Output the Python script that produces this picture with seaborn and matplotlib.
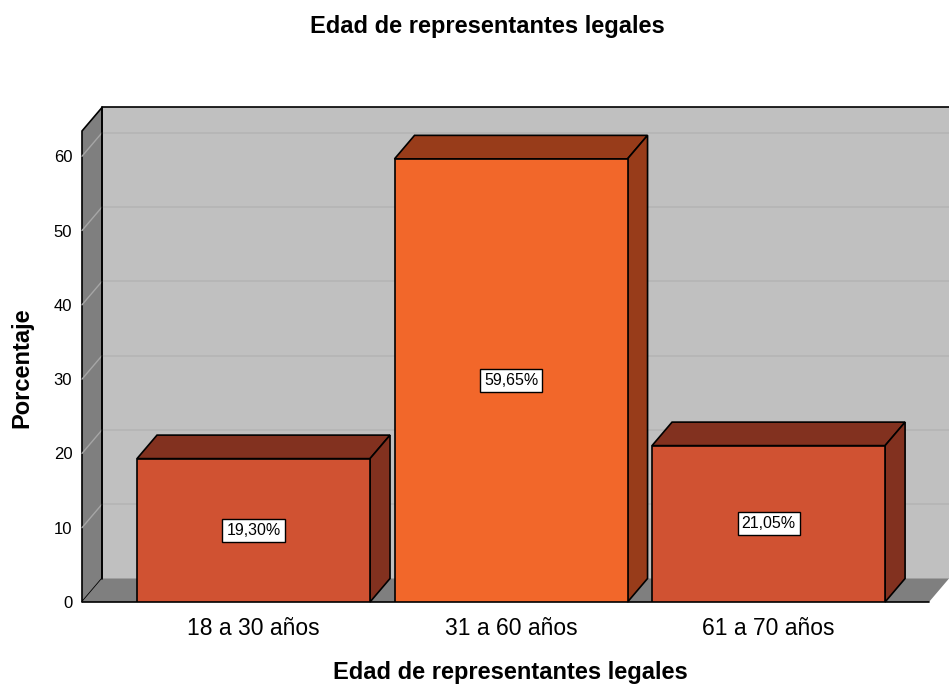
import numpy as np
import pandas as pd
import matplotlib
matplotlib.use('Agg')
import matplotlib.pyplot as plt
import seaborn as sns
from matplotlib.patches import Polygon

# datos
categorias = ['18 a 30 años', '31 a 60 años', '61 a 70 años']
porcentajes = [19.30, 59.65, 21.05]
etiquetas = ['19,30%', '59,65%', '21,05%']
colores_frente = ['#d05232', '#f2672a', '#d05232']
colores_sombra = ['#82311f', '#983c1a', '#82311f']
marcas_y = [0, 10, 20, 30, 40, 50, 60]

sns.set_style('white')
plt.rcParams['font.family'] = ['Liberation Sans', 'DejaVu Sans']
plt.rcParams['text.color'] = 'black'
plt.rcParams['xtick.color'] = 'black'
plt.rcParams['ytick.color'] = 'black'

W, H = 949, 687
fig = plt.figure(figsize=(W / 100, H / 100), dpi=100)
ax = fig.add_axes([82 / W, 85 / H, (929 - 82) / W, 471 / H])
ax.set_facecolor('none')

df = pd.DataFrame({'edad': categorias, 'pct': porcentajes})
sns.barplot(data=df, x='edad', y='pct', hue='edad', palette=colores_frente,
            saturation=1, width=233 / 257.5, edgecolor='black', linewidth=1.2,
            legend=False, ax=ax, zorder=6)

x0, x1 = -0.666, 2.623
y0, y1 = 0, 63.4
ax.set_xlim(x0, x1)
ax.set_ylim(y0, y1)

# profundidad 3D: 20 px a la derecha, 23.5 px hacia arriba
p0 = ax.transData.transform((0, 0))
ddx, ddy = ax.transData.inverted().transform(p0 + np.array([20, 23.5]))

gris_fondo = '#c0c0c0'
gris_lado = '#7f7f7f'

# pared del fondo
ax.add_patch(Polygon([(x0 + ddx, ddy), (x1 + ddx, ddy), (x1 + ddx, y1 + ddy), (x0 + ddx, y1 + ddy)],
                     closed=True, facecolor=gris_fondo, edgecolor='none', clip_on=False, zorder=0))
ax.plot([x0 + ddx, x1 + ddx], [y1 + ddy, y1 + ddy], color='black', lw=1.2, clip_on=False, zorder=1)

# lineas de cuadricula
for v in marcas_y[1:]:
    ax.plot([x0 + ddx, x1 + ddx], [v + ddy, v + ddy], color='#b4b4b4', lw=1.2, clip_on=False, zorder=1)

# pared lateral
ax.add_patch(Polygon([(x0, 0), (x0 + ddx, ddy), (x0 + ddx, y1 + ddy), (x0, y1)],
                     closed=True, facecolor=gris_lado, edgecolor='black', lw=1.2, clip_on=False, zorder=2))
for v in marcas_y[1:]:
    ax.plot([x0, x0 + ddx], [v, v + ddy], color='#a6a6a6', lw=1, clip_on=False, zorder=3)

# piso
ax.add_patch(Polygon([(x0, 0), (x1, 0), (x1 + ddx, ddy), (x0 + ddx, ddy)],
                     closed=True, facecolor=gris_lado, edgecolor='none', clip_on=False, zorder=2))
ax.plot([x0, x1], [0, 0], color='black', lw=1.2, clip_on=False, zorder=3)
ax.plot([x0 + ddx, x0 + ddx], [ddy, y1 + ddy], color='black', lw=1.2, clip_on=False, zorder=3)

# caras superior y lateral de las barras
for barra, sombra in zip(ax.patches[:len(categorias)], colores_sombra):
    bx, bw, bh = barra.get_x(), barra.get_width(), barra.get_height()
    ax.add_patch(Polygon([(bx, bh), (bx + bw, bh), (bx + bw + ddx, bh + ddy), (bx + ddx, bh + ddy)],
                         closed=True, facecolor=sombra, edgecolor='black', lw=1.2, clip_on=False, zorder=5))
    ax.add_patch(Polygon([(bx + bw, 0), (bx + bw + ddx, ddy), (bx + bw + ddx, bh + ddy), (bx + bw, bh)],
                         closed=True, facecolor=sombra, edgecolor='black', lw=1.2, clip_on=False, zorder=5))

for i, (v, t) in enumerate(zip(porcentajes, etiquetas)):
    ax.text(i, v / 2, t, ha='center', va='center', fontsize=11.5, zorder=10,
            bbox=dict(boxstyle='square,pad=0.25', facecolor='white', edgecolor='black', lw=1))

sns.despine(ax=ax, left=True, bottom=True)
ax.set_yticks(marcas_y)
ax.tick_params(axis='y', length=0, pad=7, labelsize=12)
ax.tick_params(axis='x', length=0, pad=11, labelsize=16.5)
ax.set_xlabel('')
ax.set_ylabel('')
ax.grid(False)

fig.text(487 / W, 1 - 27 / H, 'Edad de representantes legales', ha='center', va='center',
         fontsize=17, fontweight='bold')
fig.text(510 / W, 1 - 673 / H, 'Edad de representantes legales', ha='center', va='center',
         fontsize=17, fontweight='bold')
fig.text(22 / W, 1 - 368 / H, 'Porcentaje', ha='center', va='center', rotation=90,
         fontsize=17, fontweight='bold')

fig.savefig('out.png', dpi=100)
